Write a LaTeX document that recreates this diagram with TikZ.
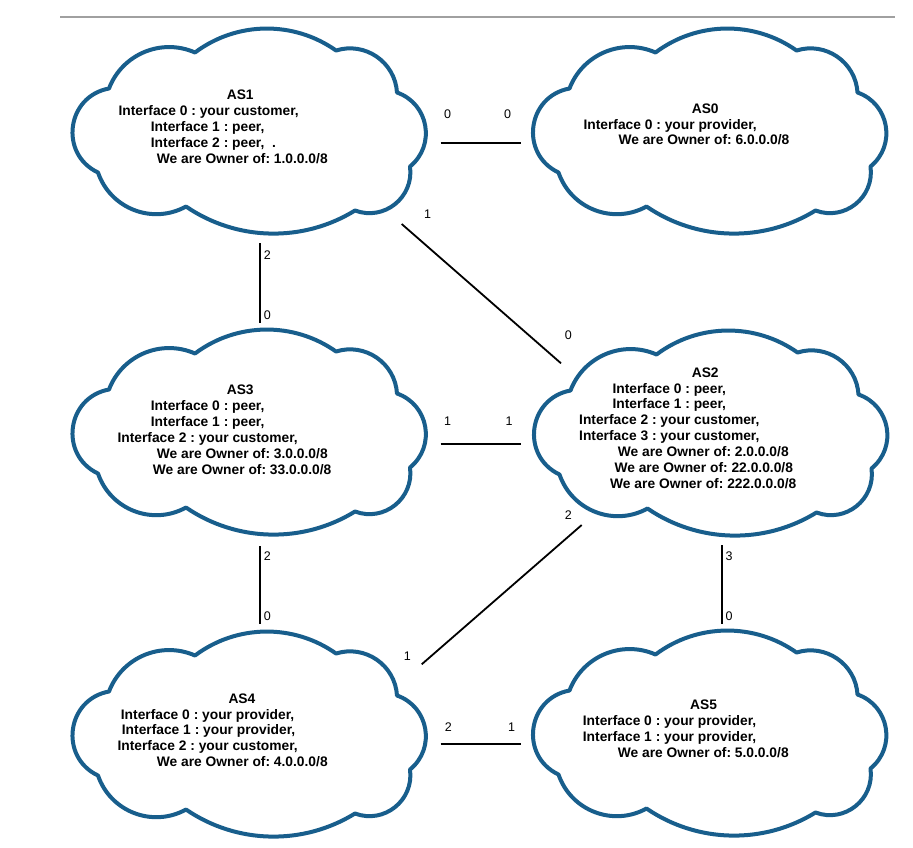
\documentclass[tikz,border=0pt]{standalone}
\usepackage{fontspec}
\setmainfont{Liberation Sans}
\frenchspacing
\definecolor{cloudblue}{RGB}{24,94,140}
\definecolor{rulegray}{RGB}{160,160,160}
\begin{document}
\begin{tikzpicture}[x=1pt,y=-1pt,
  cloudline/.style={draw=cloudblue, line width=4pt, line join=round},
  cloudbox/.style={minimum width=354pt, minimum height=205pt, inner sep=0pt, draw=none},
  astext/.style={anchor=north west, inner sep=0pt, align=left,
    font=\bfseries\fontsize{13.8}{15.9}\selectfont},
  link/.style={draw=black, line width=1.8pt},
  port/.style={font=\fontsize{12.5}{14}\selectfont, inner sep=0pt},
  rulerline/.style={draw=rulegray, line width=1.2pt},
  cloudpic/.pic={
    \draw[cloudline, yscale=-1]
      (-141,42) .. controls (-127.9,76.4) and (-88.7,92.8) .. (-55,78)
      .. controls (-13.4,109.2) and (43.6,110.0) .. (86,80)
      .. controls (115.1,89.1) and (145.1,68.5) .. (147,38)
      .. controls (178.8,26.9) and (186.1,-14.7) .. (160,-36)
      .. controls (164.2,-66.8) and (134.1,-90.9) .. (105,-80)
      .. controls (52.8,-112.2) and (-13.4,-110.6) .. (-64,-76)
      .. controls (-97.5,-94.5) and (-139.6,-78.2) .. (-152,-42)
      .. controls (-191.1,-23.5) and (-183.6,34.2) .. (-141,42) -- cycle;
  }
]
\fill[white] (0,0) rectangle (913,847);
\useasboundingbox (0,0) rectangle (913,847);

% top rule
\coordinate (ruleL) at (60,17);
\coordinate (ruleR) at (895,17);
\draw[rulerline] (ruleL) -- (ruleR);

% clouds
\node[cloudbox] (as1) at (250,130.5) {};
\node[cloudbox] (as0) at (710.5,130.5) {};
\node[cloudbox] (as3) at (250,431.5) {};
\node[cloudbox] (as2) at (711.5,432.5) {};
\node[cloudbox] (as4) at (250,733.5) {};
\node[cloudbox] (as5) at (710.5,732.5) {};
\foreach \c in {as1,as0,as3,as2,as4,as5}{
  \pic at (\c.center) {cloudpic};
}

% cloud texts
\node[astext] (as1txt) at (118.3,90) {\hspace*{108.3pt}AS1\\
  Interface 0 : your customer,\\
  \hspace*{32.4pt}Interface 1 : peer,\\
  \hspace*{32.4pt}Interface 2 : peer,\ \ .\\
  \hspace*{38.4pt}We are Owner of: 1.0.0.0/8};
\node[astext] (as0txt) at (583.3,103.3) {\hspace*{108.3pt}AS0\\
  Interface 0 : your provider,\\
  \hspace*{35pt}We are Owner of: 6.0.0.0/8};
\node[astext] (as3txt) at (117.3,385) {\hspace*{109.3pt}AS3\\
  \hspace*{33.4pt}Interface 0 : peer,\\
  \hspace*{33.4pt}Interface 1 : peer,\\
  Interface 2 : your customer,\\
  \hspace*{39.4pt}We are Owner of: 3.0.0.0/8\\
  \hspace*{35.4pt}We are Owner of: 33.0.0.0/8};
\node[astext] (as2txt) at (579,367.3) {\hspace*{112.6pt}AS2\\
  \hspace*{33.3pt}Interface 0 : peer,\\
  \hspace*{33.3pt}Interface 1 : peer,\\
  Interface 2 : your customer,\\
  Interface 3 : your customer,\\
  \hspace*{38.7pt}We are Owner of: 2.0.0.0/8\\
  \hspace*{35.3pt}We are Owner of: 22.0.0.0/8\\
  \hspace*{31pt}We are Owner of: 222.0.0.0/8};
\node[astext] (as4txt) at (117.3,693.3) {\hspace*{111pt}AS4\\
  \hspace*{3.4pt}Interface 0 : your provider,\\
  \hspace*{4.4pt}Interface 1 : your provider,\\
  Interface 2 : your customer,\\
  \hspace*{39.4pt}We are Owner of: 4.0.0.0/8};
\node[astext] (as5txt) at (582.7,700) {\hspace*{107.2pt}AS5\\
  Interface 0 : your provider,\\
  Interface 1 : your provider,\\
  \hspace*{35pt}We are Owner of: 5.0.0.0/8};

% link end points
\coordinate (a10) at (440.7,142.7);  \coordinate (a00) at (520.7,142.7);
\coordinate (a11) at (401.7,224);    \coordinate (a20) at (561,363.3);
\coordinate (a12) at (260.3,243.3);  \coordinate (a30) at (260.3,323.3);
\coordinate (a31) at (440.7,443.7);  \coordinate (a21) at (521,443.7);
\coordinate (a22) at (581.7,525);    \coordinate (a41) at (421.7,664.3);
\coordinate (a23) at (722.3,545);    \coordinate (a50) at (722.3,624.3);
\coordinate (a32) at (260.3,546);    \coordinate (a40) at (260.3,624.3);
\coordinate (a42) at (440.7,744.3);  \coordinate (a51) at (520.7,744.3);

\draw[link] (a10) -- (a00);
\draw[link] (a11) -- (a20);
\draw[link] (a12) -- (a30);
\draw[link] (a31) -- (a21);
\draw[link] (a22) -- (a41);
\draw[link] (a23) -- (a50);
\draw[link] (a32) -- (a40);
\draw[link] (a42) -- (a51);

% interface numbers
\node[port] (p10) at (447.7,114) {0};
\node[port] (p00) at (507.7,114) {0};
\node[port] (p11) at (427.7,214.3) {1};
\node[port] (p20) at (568.3,335) {0};
\node[port] (p12) at (267.3,255) {2};
\node[port] (p30) at (267.3,315) {0};
\node[port] (p31) at (447.7,421) {1};
\node[port] (p21) at (509,421) {1};
\node[port] (p22) at (568.3,515) {2};
\node[port] (p41) at (407.3,655.7) {1};
\node[port] (p23) at (729,556) {3};
\node[port] (p50) at (729,616) {0};
\node[port] (p32) at (267.3,556) {2};
\node[port] (p40) at (267.3,616) {0};
\node[port] (p42) at (448.3,727.3) {2};
\node[port] (p51) at (511.7,727.3) {1};
\end{tikzpicture}
\end{document}
